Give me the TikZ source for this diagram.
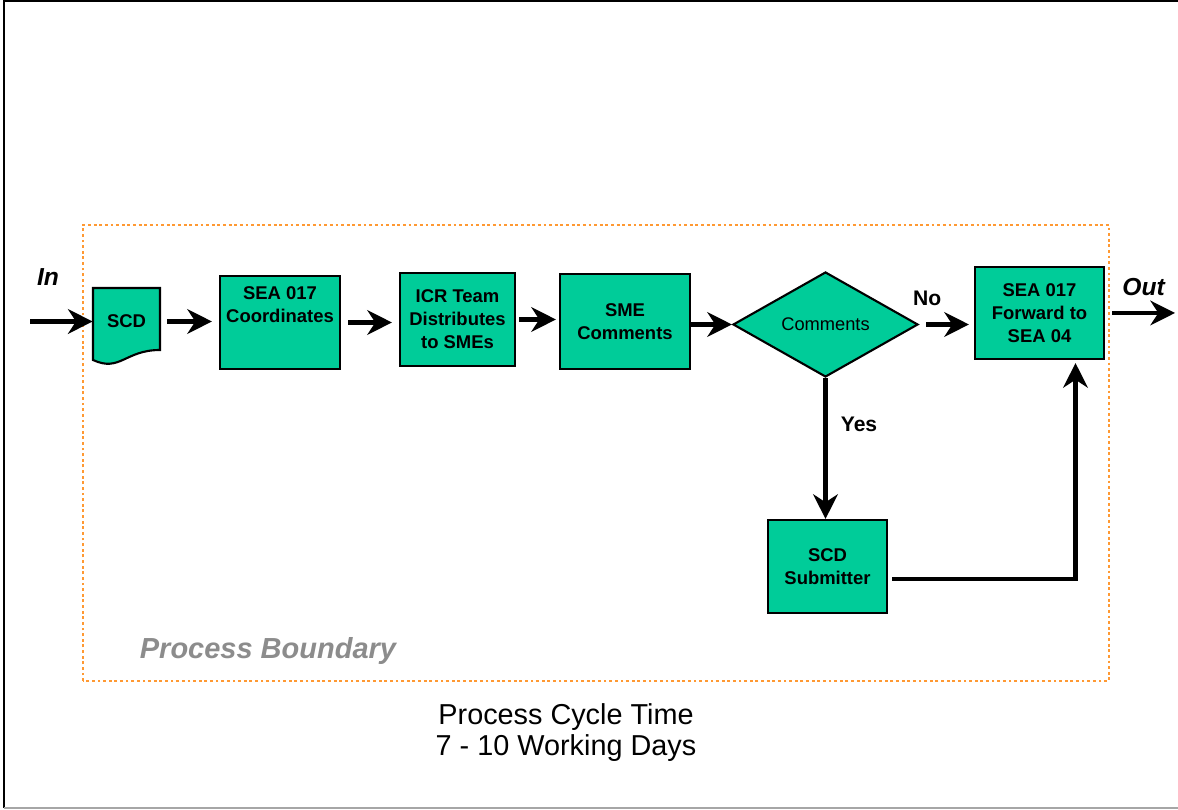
\documentclass[tikz,border=0pt]{standalone}
\usepackage{fontspec}
\setmainfont{Liberation Sans}
\usetikzlibrary{shapes.geometric, arrows.meta, positioning, calc}
\definecolor{procgreen}{RGB}{0,204,153}
\definecolor{boundorange}{RGB}{255,153,51}
\definecolor{boundgray}{RGB}{140,140,140}

\begin{document}
\begin{tikzpicture}[
			boxtext/.style={align=center, inner sep=0pt, font=\fontsize{10.5}{13}\selectfont\bfseries},
			procbox/.style={boxtext, rectangle, draw=black, line width=1.2pt, fill=procgreen},
			decision/.style={diamond, draw=black, line width=1.2pt, fill=procgreen, inner sep=0pt, minimum width=3.7cm, minimum height=2.1cm, font=\fontsize{10.4}{13}\selectfont},
			flowarrow/.style={-{Stealth[length=14pt, width=14pt, inset=4.5pt]}, line width=2.8pt},
			edgelabel/.style={font=\fontsize{12}{14}\selectfont\bfseries},
			inout/.style={font=\fontsize{14}{16}\selectfont\bfseries\itshape}
			]
			\useasboundingbox (0,0) rectangle (23.56,16.2);
			
			% frame and process boundary
			\draw[line width=1.5pt] (0.08,0.04) -- (0.08,16.18) -- (23.56,16.18);
			\draw[gray!70, line width=1pt] (0.08,0.04) -- (23.56,0.04);
			\draw[boundorange, line width=1.6pt, dash pattern=on 1.6pt off 1.6pt] (1.66,2.58) rectangle (22.18,11.7);
			
			% SCD document
			\filldraw[fill=procgreen, line width=1.2pt] (1.86,10.44) -- (3.2,10.44) -- (3.2,9.2) .. controls (2.5,9.2) and (2.4,8.75) .. (1.86,9.0) -- cycle;
			\node[boxtext, minimum width=1.34cm, minimum height=1.34cm] (scd) at (2.53,9.77) {SCD};
			
			\node[procbox, minimum width=2.4cm, minimum height=1.86cm] (coord) at (5.6,9.75) {};
			\node[boxtext] (coordtext) at (5.6,10.11) {SEA 017\\Coordinates};
			\node[procbox, minimum width=2.3cm, minimum height=1.86cm] (icr) at (9.15,9.81) {ICR Team\\Distributes\\to SMEs};
			\node[procbox, minimum width=2.6cm, minimum height=1.9cm] (sme) at (12.5,9.77) {SME\\Comments};
			\node[decision] (dec) at (16.51,9.71) {Comments};
			\node[procbox, minimum width=2.58cm, minimum height=1.84cm] (fwd) at (20.79,9.94) {SEA 017\\Forward to\\SEA 04};
			\node[procbox, minimum width=2.38cm, minimum height=1.86cm] (sub) at (16.55,4.87) {SCD\\Submitter};
			
			\coordinate (in) at (0.6,9.77);
			\coordinate (out) at (23.5,9.94);
			\node[inout] (inlabel) at (0.96,10.66) {In};
			
			\draw[flowarrow] (in) -- (scd);
			\draw[flowarrow, shorten <=0.14cm, shorten >=0.14cm] (scd.east) -- (scd.east -| coord.west);
			\draw[flowarrow, shorten <=0.14cm, shorten >=0.14cm] (coord.east) -- (coord.east -| icr.west);
			\draw[flowarrow, shorten <=0.06cm, shorten >=0.06cm] (icr.east) -- (icr.east -| sme.west);
			\draw[flowarrow] (sme.east |- dec.west) -- (dec.west);
			\draw[flowarrow, shorten <=0.14cm, shorten >=0.1cm] (dec.east) -- (dec.east -| fwd.west) node[edgelabel, pos=0.15, above=6pt] (nolabel) {No};
			\draw[flowarrow] (dec.south) -- (dec.south |- sub.north) node[edgelabel, pos=0.33, right=4pt] (yeslabel) {Yes};
			\draw[flowarrow, shorten <=0.08cm, shorten >=0.06cm] ([yshift=-0.25cm]sub.east) -| ([xshift=0.72cm]fwd.south);
			\draw[flowarrow, shorten <=0.14cm] (fwd.east) -- (out) node[inout, pos=0.55, above=5pt] (outlabel) {Out};
			
			\node[font=\fontsize{16.5}{20}\selectfont\bfseries\itshape, text=boundgray] (boundlabel) at (5.36,3.18) {Process Boundary};
			\node[align=center, font=\fontsize{16.4}{17.6}\selectfont] (cycle) at (11.32,1.54) {Process Cycle Time\\7 - 10 Working Days};
		\end{tikzpicture}
\end{document}
